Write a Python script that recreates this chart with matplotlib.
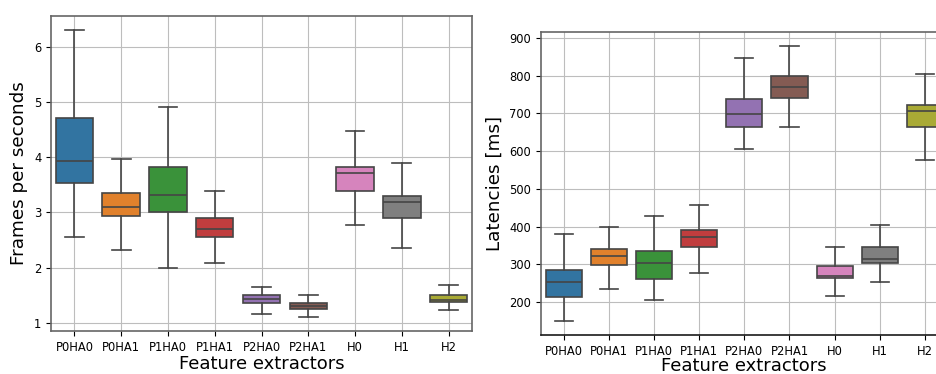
import matplotlib
matplotlib.use("Agg")
import matplotlib.pyplot as plt
import seaborn as sns

# feature extractors
extractors = ["P0HA0", "P0HA1", "P1HA0", "P1HA1", "P2HA0", "P2HA1", "H0", "H1", "H2"]

# frames per second (whisker low, q1, median, q3, whisker high)
fps_low = [2.55, 2.31, 2.00, 2.08, 1.16, 1.11, 2.77, 2.36, 1.24]
fps_q1 = [3.53, 2.93, 3.00, 2.56, 1.36, 1.255, 3.38, 2.90, 1.38]
fps_med = [3.94, 3.10, 3.31, 2.70, 1.43, 1.30, 3.72, 3.18, 1.42]
fps_q3 = [4.71, 3.35, 3.82, 2.89, 1.51, 1.35, 3.82, 3.30, 1.51]
fps_high = [6.30, 3.97, 4.91, 3.38, 1.655, 1.50, 4.47, 3.90, 1.69]

# latencies in ms
lat_low = [149, 235, 204, 278, 606, 665, 215, 254, 576]
lat_q1 = [212, 299, 262, 345, 665, 740, 263, 303, 664]
lat_med = [254, 323, 303, 372, 699, 769, 270, 315, 705]
lat_q3 = [284, 341, 334, 390, 738, 798, 296, 345, 723]
lat_high = [380, 400, 429, 456, 847, 879, 346, 405, 804]

colors = sns.color_palette("tab10", len(extractors), desat=0.75)
line_col = "0.27"


def make_stats(low, q1, med, q3, high):
    return [dict(whislo=a, q1=b, med=c, q3=d, whishi=e, fliers=[])
            for a, b, c, d, e in zip(low, q1, med, q3, high)]


def draw_box(ax, stats, ylabel, pad):
    ax.set_axisbelow(True)
    ax.grid(True, color="#bdbdbd", linewidth=0.8)
    props = dict(color=line_col, linewidth=1.2)
    bp = ax.bxp(stats, positions=range(len(stats)), widths=0.8, patch_artist=True,
                showfliers=False, boxprops=dict(edgecolor=line_col, linewidth=1.2),
                whiskerprops=props, capprops=props, medianprops=props)
    for patch, c in zip(bp["boxes"], colors):
        patch.set_facecolor(c)
    ax.set_xlim(-0.5, len(stats) - 0.5)
    ax.set_xticks(range(len(stats)))
    ax.set_xticklabels(extractors)
    ax.tick_params(labelsize=8.3)
    ax.set_xlabel("Feature extractors", fontsize=13, labelpad=pad)
    ax.set_ylabel(ylabel, fontsize=13.2)
    for s in ax.spines.values():
        s.set_color("0.4")
        s.set_linewidth(1.2)


fig = plt.figure(figsize=(9.37, 3.74), dpi=100)
W, H = 937, 374
ax1 = fig.add_axes([51 / W, (H - 331) / H, (472 - 51) / W, (331 - 16) / H])
ax2 = fig.add_axes([541 / W, (H - 335) / H, (947.6 - 541) / W, (335 - 32) / H])

draw_box(ax1, make_stats(fps_low, fps_q1, fps_med, fps_q3, fps_high), "Frames per seconds", 1)
draw_box(ax2, make_stats(lat_low, lat_q1, lat_med, lat_q3, lat_high), "Latencies [ms]", -0.5)
ax2.spines["bottom"].set_color("0.1")
ax1.margins(y=0.05)
ax2.margins(y=0.05)
ax1.set_yticks([1, 2, 3, 4, 5, 6])

fig.savefig("out.png", dpi=100)
